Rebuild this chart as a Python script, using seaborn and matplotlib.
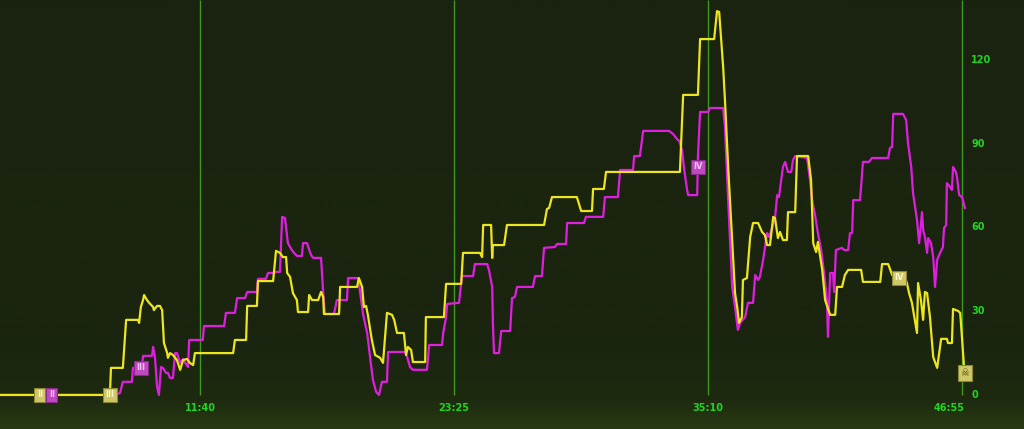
import numpy as np
import pandas as pd
import matplotlib
matplotlib.use('Agg')
import matplotlib.pyplot as plt
from matplotlib.colors import LinearSegmentedColormap
import seaborn as sns

# -------------------------------------------------------------------------
# DATA (tempo em segundos, valor no eixo da direita)

yellow_t = [145, 450, 453, 486, 495, 528, 531, 536, 542, 545, 553, 559, 570, 572, 581, 589, 595,
            600, 609, 611, 617, 625, 636, 645, 653, 664, 672, 681, 686, 792, 797, 828, 831, 858,
            861, 903, 911, 922, 930, 939, 942, 950, 958, 969, 972, 1000, 1003, 1011, 1028, 1036,
            1042, 1044, 1086, 1089, 1136, 1141, 1150, 1155, 1161, 1166, 1177, 1186, 1200, 1208,
            1219, 1233, 1239, 1247, 1266, 1272, 1277, 1286, 1291, 1325, 1327, 1377, 1383, 1425,
            1430, 1477, 1483, 1486, 1508, 1511, 1513, 1544, 1552, 1655, 1663, 1669, 1677, 1746,
            1758, 1788, 1791, 1821, 1827, 2032, 2041, 2082, 2088, 2127, 2135, 2141, 2152, 2157,
            2166, 2177, 2185, 2191, 2196, 2204, 2207, 2218, 2227, 2235, 2249, 2260, 2268, 2274,
            2282, 2291, 2296, 2304, 2310, 2318, 2329, 2332, 2352, 2357, 2388, 2396, 2402, 2410,
            2415, 2427, 2435, 2449, 2463, 2468, 2482, 2490, 2499, 2535, 2540, 2588, 2593, 2610,
            2621, 2629, 2657, 2662, 2668, 2676, 2690, 2693, 2701, 2707, 2712, 2718, 2726, 2735,
            2746, 2757, 2773, 2776, 2787, 2790, 2804, 2810, 2821, 2823]
yellow_v = [0, 0, 9.7, 9.7, 26.9, 26.9, 25.8, 31.5, 34, 35.8, 34, 33, 31.5, 30.4, 31.9, 31.9, 30.4,
            18.6, 15, 13.3, 15, 14.3, 12.5, 9, 12.5, 12.9, 11.5, 10.7, 15, 15, 19.7, 19.7, 31.9, 31.9,
            40.8, 40.8, 51.6, 50.9, 49.4, 49.4, 43.7, 42.3, 36.5, 34, 29.7, 29.7, 35.8, 34, 34, 36.9,
            35.1, 29, 29, 38.7, 38.7, 41.9, 38.7, 31.5, 31.9, 28.7, 19.7, 14.3, 13.3, 11.5,
            29.4, 28.7, 26.9, 22.2, 22.2, 14.3, 17.2, 16.1, 11.8, 11.8, 27.9, 27.9, 39.8, 39.8,
            50.9, 50.9, 49.4, 60.9, 60.9, 49.1, 53.7, 53.7, 60.9, 60.9, 66.6, 67, 70.9, 70.9,
            65.9, 65.9, 73.8, 73.8, 79.9, 79.9, 107.5, 107.5, 127.5, 127.5, 137.5, 137.2, 117.5, 105.7,
            81.7, 55.5, 36.5, 31.5, 25.8, 27.9, 41.2, 41.9, 56.6, 61.6, 61.6, 58.4, 57.3, 53.7,
            53.7, 63.8, 63.4, 56.2, 58.4, 55.5, 55.5, 65.5, 65.5, 85.6, 85.6, 77, 54.4, 51.2,
            54.8, 44.8, 34, 28.7, 28.7, 38.7, 38.7, 43, 44.8, 44.8, 40.5, 40.5, 46.9, 46.9,
            43, 41.9, 41.9, 40.1, 36.5, 33, 22.2, 40.1, 34, 26.9, 36.9, 36.5, 27.9, 13.6,
            9.7, 20.1, 20.1, 18.6, 18.6, 30.8, 30.1, 29.4, 9.3, 7.9]

magenta_t = [145, 464, 478, 486, 511, 514, 539, 542, 567, 570, 575, 581, 586, 592, 597, 606, 611,
             617, 625, 631, 636, 645, 653, 661, 667, 670, 708, 711, 767, 772, 797, 803, 825, 831,
             858, 861, 883, 889, 905, 911, 922, 928, 936, 944, 955, 961, 969, 983, 986, 997, 1008,
             1014, 1036, 1042, 1047, 1072, 1080, 1108, 1111, 1139, 1153, 1164, 1172, 1180, 1189,
             1197, 1205, 1219, 1222, 1269, 1275, 1283, 1291, 1330, 1336, 1372, 1375, 1383, 1386,
             1419, 1427, 1458, 1463, 1497, 1502, 1511, 1513, 1516, 1530, 1536, 1561, 1566, 1574,
             1580, 1624, 1630, 1649, 1655, 1685, 1691, 1716, 1719, 1766, 1771, 1819, 1824, 1860,
             1866, 1902, 1905, 1921, 1930, 2002, 2013, 2024, 2030, 2038, 2044, 2052, 2055, 2080,
             2082, 2088, 2110, 2116, 2152, 2157, 2166, 2177, 2185, 2193, 2199, 2213, 2221, 2235,
             2241, 2249, 2254, 2263, 2268, 2274, 2279, 2288, 2296, 2302, 2307, 2318, 2324, 2332,
             2341, 2346, 2352, 2385, 2393, 2399, 2407, 2415, 2424, 2432, 2440, 2443, 2449, 2457,
             2460, 2465, 2482, 2488, 2499, 2504, 2510, 2513, 2532, 2540, 2557, 2565, 2610, 2615,
             2621, 2624, 2651, 2660, 2665, 2674, 2679, 2685, 2690, 2696, 2704, 2707, 2712, 2718,
             2721, 2729, 2735, 2740, 2746, 2754, 2762, 2765, 2771, 2773, 2782, 2787, 2790, 2798,
             2801, 2807, 2815, 2823]
magenta_v = [0, 0, 0.7, 4.7, 4.7, 9.7, 10, 14, 14, 17.2, 13.6, 2.9, 0, 10, 9.7, 7.9, 7.9,
             6.1, 6.1, 15, 15, 11.5, 12.9, 11.1, 10, 19.7, 19.7, 24.7, 24.7, 29.4, 29.4, 34.7, 34.7, 36.9,
             36.9, 41.6, 41.6, 43.7, 43.7, 44.1, 44.1, 63.8, 63.4, 54.4, 51.9, 50.9, 49.8, 49.8, 54.4, 54.4, 50.2,
             49.1, 49.1, 36.5, 29, 29, 34, 34, 41.9, 41.9, 28.7, 22.2, 13.6, 5.4, 1.1,
             0, 4.7, 4.7, 15.4, 15.4, 13.6, 10, 9, 9, 17.9, 17.9, 22.2, 27.9, 32.6,
             33, 42.6, 42.6, 46.9, 46.9, 44.8, 38.7, 25.8, 15, 15, 22.9, 22.9, 34.7, 35.1,
             38.7, 38.7, 42.6, 42.6, 52.7, 53, 54.1, 54.1, 61.6, 61.6, 63.8, 63.8, 70.9, 70.9,
             80.6, 80.6, 85.6, 85.6, 94.6, 94.6, 93.5, 91.7, 91, 87.8, 80.6, 73.4, 71.6, 71.6,
             85.3, 101.4, 101.4, 102.8, 102.8, 96, 69.8, 38.7, 31.5, 23.3, 25.8, 27.9, 33, 33,
             43, 41.2, 42.3, 48.4, 52.7, 58, 56.6, 59.8, 63.4, 71.6, 70.9, 81.7, 83.5, 79.9,
             79.9, 84.2, 85.6, 84.9, 77, 69.8, 64.5, 58, 51.9, 43.7, 34, 20.8, 43.7, 43.7,
             36.9, 51.9, 52.7, 51.9, 51.9, 58, 58, 69.8, 69.8, 83.5, 83.5, 84.9, 84.9, 88.5,
             88.8, 100.7, 100.7, 98.5, 90.3, 81.7, 72.4, 67, 62.7, 54.4, 65.5, 59.1, 56.6, 50.9,
             56.2, 54.4, 49.4, 38.7, 48.4, 50.9, 53, 59.8, 60.9, 75.9, 74.5, 73.4, 81.7, 79.9,
             78.1, 71.6, 70.9, 67]

# marcadores (tempo, valor, texto, serie)
marker_t = [256, 289, 450, 536, 2082, 2640, 2823]
marker_v = [0, 0, 0, 9.7, 81.7, 41.9, 7.9]
marker_txt = ['II', 'II', 'III', 'III', 'IV', 'IV', '\u2620']
marker_serie = ['y', 'm', 'y', 'm', 'm', 'y', 'y']

grid_t = [700, 1405, 2110, 2815]
grid_lbl = ['11:40', '23:25', '35:10', '46:55']
ytick_v = [0, 30, 60, 90, 120]

# -------------------------------------------------------------------------

T_MIN, T_MAX = 145, 2987
V_MIN, V_MAX = -12.2, 141.5

GREEN_TXT = '#22d422'
YEL = '#ece61e'
MAG = '#e01ee0'

fig = plt.figure(figsize=(10.24, 4.29), dpi=100)
ax = fig.add_axes([0, 0, 1, 1])

# fundo verde escuro com faixa mais clara embaixo
bg_cmap = LinearSegmentedColormap.from_list('bg', ['#293a12', '#1d2a10', '#1a250f', '#1a2310'])
grad = np.concatenate([np.linspace(0, 1, 30), np.linspace(1, 2, 60), np.linspace(2, 3, 340)])[:, None]
ax.imshow(grad, extent=[T_MIN, T_MAX, V_MIN, V_MAX], origin='lower', aspect='auto',
          cmap=bg_cmap, vmin=0, vmax=3, zorder=0)

# linhas verticais de referencia
ax.vlines(grid_t, 0, V_MAX, colors='#3c9a1e', linewidth=1.0, zorder=1)

df_y = pd.DataFrame({'t': yellow_t, 'v': yellow_v})
df_m = pd.DataFrame({'t': magenta_t, 'v': magenta_v})
sns.lineplot(data=df_m, x='t', y='v', ax=ax, color=MAG, linewidth=1.6, sort=False,
             estimator=None, zorder=3)
sns.lineplot(data=df_y, x='t', y='v', ax=ax, color=YEL, linewidth=1.6, sort=False,
             estimator=None, zorder=4)
ax.set_xlim(T_MIN, T_MAX)
ax.set_ylim(V_MIN, V_MAX)
ax.axis('off')

# marcadores com numeros romanos
for t, v, txt, s in zip(marker_t, marker_v, marker_txt, marker_serie):
    if s == 'y':
        fc, ec, tc = '#cfc868', '#8c8632', '#f6f4c8'
    else:
        fc, ec, tc = '#c048c0', '#8a2a8a', '#f4c4f4'
    if txt == '\u2620':
        tc, wt, fs = '#5a5410', 'normal', 7
    else:
        wt, fs = 'bold', 6
    ax.text(t, v, txt, ha='center', va='center', fontsize=fs, fontweight=wt, color=tc,
            family=['DejaVu Sans'], zorder=6,
            bbox=dict(boxstyle='square,pad=0.3', fc=fc, ec=ec, lw=0.8))

# rotulos do eixo x
for t, lbl in zip(grid_t, grid_lbl):
    if lbl == grid_lbl[-1]:
        ax.text(t + 8, -4.7, lbl, ha='right', va='center', fontsize=7, fontweight='bold',
                color=GREEN_TXT, zorder=5)
    else:
        ax.text(t, -4.7, lbl, ha='center', va='center', fontsize=7, fontweight='bold',
                color=GREEN_TXT, zorder=5)

# rotulos do eixo y (lado direito)
for v in ytick_v:
    ax.text(2840, v, str(v), ha='left', va='center', fontsize=7, fontweight='bold',
            color=GREEN_TXT, zorder=5)

fig.savefig('out.png', dpi=100)
